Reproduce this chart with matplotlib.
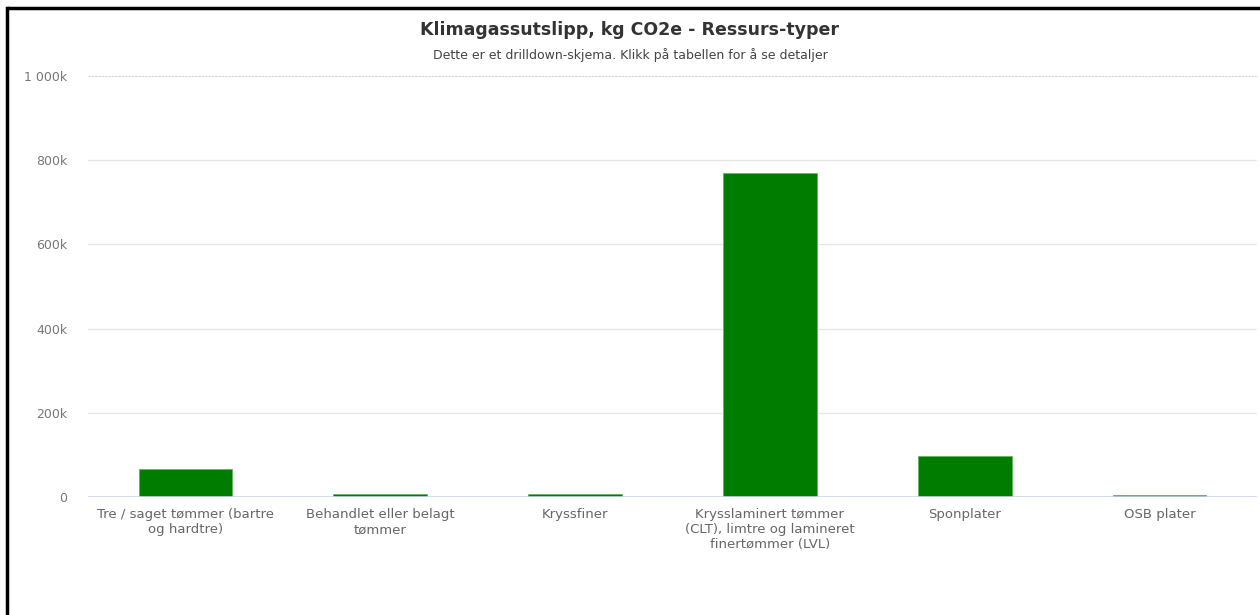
import matplotlib.pyplot as plt
from matplotlib.lines import Line2D

# Ressurs-typer og utslipp (kg CO2e)
categories = [
    'Tre / saget tømmer (bartre\nog hardtre)',
    'Behandlet eller belagt\ntømmer',
    'Kryssfiner',
    'Krysslaminert tømmer\n(CLT), limtre og lamineret\nfinertømmer (LVL)',
    'Sponplater',
    'OSB plater',
]
emissions = [66000, 7000, 7000, 769000, 97000, 5000]
y_ticks = [0, 200000, 400000, 600000, 800000, 1000000]
y_tick_labels = ['0', '200k', '400k', '600k', '800k', '1 000k']

fig = plt.figure(figsize=(12.6, 6.15), dpi=100)
ax = fig.add_axes([88 / 1260, 1 - 497 / 615, 1169 / 1260, 421 / 615])

x = list(range(len(categories)))
ax.bar(x, emissions, width=0.48, color='#007c00', edgecolor='#66b366',
       linewidth=0.6, zorder=3)

ax.set_xlim(-0.5, len(categories) - 0.5)
ax.set_ylim(0, 1000000)
ax.set_yticks(y_ticks)
ax.set_yticklabels(y_tick_labels)
ax.set_xticks(x)
ax.set_xticklabels(categories)

ax.tick_params(axis='y', length=0, pad=15, labelsize=9, labelcolor='#777777')
ax.tick_params(axis='x', length=0, pad=8, labelsize=9.5, labelcolor='#666666')

# rutenett: øverste linje stiplet, resten heltrukne
ax.grid(False)
for v in y_ticks[1:-1]:
    ax.axhline(v, color='#e6e6e6', linewidth=1, zorder=0)
ax.axhline(y_ticks[-1], color='#d0d0d0', linewidth=0.8, linestyle=(0, (2, 1)),
           zorder=0)
ax.axhline(0, color='#ccd6eb', linewidth=1.2, zorder=4)

for s in ax.spines.values():
    s.set_visible(False)

fig.text(0.5, 1 - 30 / 615, 'Klimagassutslipp, kg CO2e - Ressurs-typer',
         ha='center', va='center', fontsize=12.5, fontweight='bold',
         color='#333333')
fig.text(0.5, 1 - 55 / 615,
         'Dette er et drilldown-skjema. Klikk på tabellen for å se detaljer',
         ha='center', va='center', fontsize=9, color='#444444')

# ramme oppe og til venstre
fig.add_artist(Line2D([7 / 1260, 1.01], [1 - 8 / 615, 1 - 8 / 615],
                      color='black', linewidth=2.5, solid_capstyle='butt'))
fig.add_artist(Line2D([7 / 1260, 7 / 1260], [-0.01, 1 - 8 / 615],
                      color='black', linewidth=2.5, solid_capstyle='projecting'))

fig.savefig('out.png', dpi=100, facecolor='white')
